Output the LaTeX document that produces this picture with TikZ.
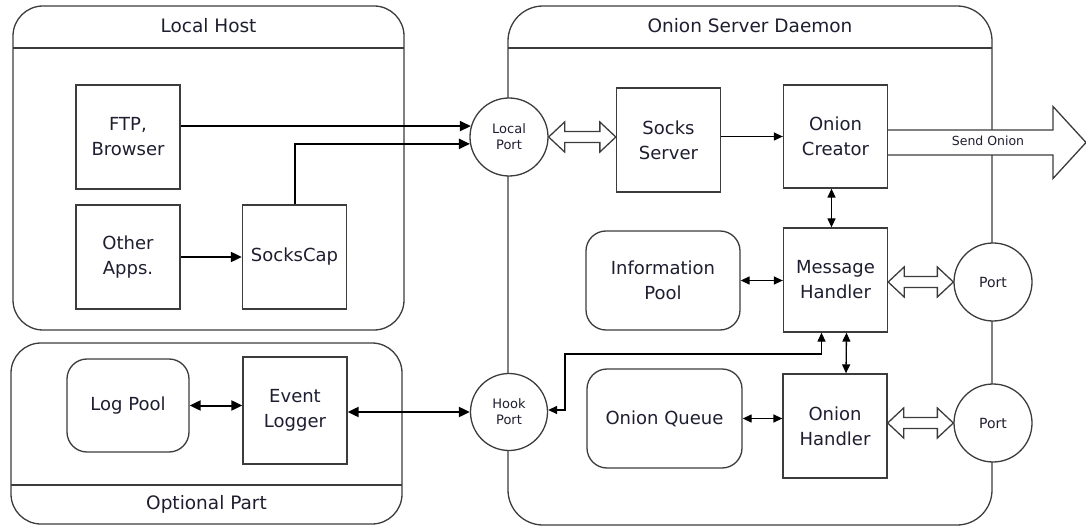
\documentclass[tikz,border=0pt]{standalone}
\usepackage{fontspec}
\setmainfont{DejaVu Sans}
\usetikzlibrary{arrows.meta,calc}
\definecolor{linec}{HTML}{3C3C3C}
\definecolor{textc}{HTML}{1E1E30}
\tikzset{
  frame/.style={draw=linec, line width=1.3pt},
  box/.style={draw=linec, line width=1.3pt, fill=white, minimum width=104pt, minimum height=104pt, inner sep=0pt, align=center, text=textc, font=\fontsize{18}{25}\selectfont},
  rbox/.style={box, rounded corners=20pt},
  portc/.style={draw=linec, line width=1.3pt, fill=white, circle, minimum size=78pt, inner sep=0pt, align=center, text=textc, font=\fontsize{13}{16}\selectfont},
  title/.style={text=textc, font=\fontsize{18.5}{22}\selectfont, inner sep=0pt},
  thick arr/.style={line width=2pt, black, -{Triangle[length=11pt,width=10pt]}},
  thick dbl/.style={line width=2pt, black, {Triangle[length=11pt,width=10pt]}-{Triangle[length=11pt,width=10pt]}},
  thin arr/.style={line width=1.3pt, black, -{Triangle[length=9pt,width=8pt]}},
  thin dbl/.style={line width=1.3pt, black, {Triangle[length=9pt,width=8pt]}-{Triangle[length=9pt,width=8pt]}},
  hollow/.style={draw=linec, line width=1.3pt, fill=white, line join=miter},
}
\newcommand\dblhollow[2]{%
  \draw[hollow] let \p1=(#1), \p2=(#2) in
    (\x1,\y1) -- (\x1+16pt,\y1+15pt) -- (\x1+16pt,\y1+5.5pt) -- (\x2-16pt,\y1+5.5pt)
    -- (\x2-16pt,\y1+15pt) -- (\x2,\y1) -- (\x2-16pt,\y1-15pt) -- (\x2-16pt,\y1-5.5pt)
    -- (\x1+16pt,\y1-5.5pt) -- (\x1+16pt,\y1-15pt) -- cycle;}
\begin{document}
\begin{tikzpicture}[x=1pt,y=-1pt]
\useasboundingbox (0,0) rectangle (1086,526);

% frames
\draw[frame, rounded corners=30pt] (13,6) rectangle (404,330);
\draw[frame] (13,48) -- (404,48);
\node[title] (lhtitle) at (208.5,26) {Local Host};

\draw[frame, rounded corners=30pt] (11,343) rectangle (402,524);
\draw[frame] (11,485) -- (402,485);
\node[title] (optitle) at (206.5,504) {Optional Part};

\draw[frame, rounded corners=35pt] (508,6) rectangle (992,525);
\draw[frame] (508,48) -- (992,48);
\node[title] (ostitle) at (750,26) {Onion Server Daemon};

% local host nodes
\node[box] (ftp) at (128,137) {FTP,\\Browser};
\node[box] (other) at (128,257) {Other\\Apps.};
\node[box] (socks) at (294.5,257) {SocksCap};

% optional part nodes
\node[rbox, minimum width=122pt, minimum height=93pt] (logpool) at (128,405.5) {Log Pool};
\node[box, minimum height=107pt] (evlog) at (295,410.5) {Event\\Logger};

% ports
\node[portc] (lport) at (509,137) {Local\\Port};
\node[portc, minimum size=77pt] (hport) at (509,412) {Hook\\Port};
\node[portc, font=\fontsize{14}{16}\selectfont] (port1) at (993,282) {Port};
\node[portc, font=\fontsize{14}{16}\selectfont] (port2) at (993,423) {Port};

% daemon nodes
\node[box] (ssrv) at (668.5,140) {Socks\\Server};
\node[box, minimum height=103pt] (ocr) at (835.5,136.5) {Onion\\Creator};
\node[rbox, minimum width=154pt, minimum height=99pt] (ipool) at (663,280.5) {Information\\Pool};
\node[box] (mh) at (835.5,280) {Message\\Handler};
\node[rbox, minimum width=155pt, minimum height=99pt] (oq) at (664.5,418.5) {Onion Queue};
\node[box] (oh) at (835,426) {Onion\\Handler};

% send onion arrow
\coordinate (sendtip) at (1086,142.5);
\draw[hollow] let \p1=(ocr.east |- sendtip), \p2=(sendtip) in
  (\x1,\y1+12.5pt) -- (\x2-33pt,\y1+12.5pt) -- (\x2-33pt,\y1+36pt) -- (\x2,\y1)
  -- (\x2-33pt,\y1-36pt) -- (\x2-33pt,\y1-12.5pt) -- (\x1,\y1-12.5pt);
\node[text=textc, font=\fontsize{12.5}{14}\selectfont, inner sep=0pt] (sendlbl) at (988,141) {Send Onion};

% local host connectors
\draw[thick arr] (ftp.east |- lport.164) -- (lport.164);
\draw[thick arr] (socks.north) |- (lport.190);
\draw[thick arr] (other.east) -- (socks.west);

% optional part connectors
\draw[thick dbl] (logpool.east) -- (evlog.west |- logpool.east);
\draw[thick dbl] (evlog.east |- hport.west) -- (hport.west);

% daemon connectors
\dblhollow{lport.east}{ssrv.west |- lport.east}
\draw[thin arr] (ssrv.east |- ocr.west) -- (ocr.west);
\draw[thin dbl] ([xshift=-4pt]ocr.south) -- ([xshift=-4pt]mh.north);
\draw[thin dbl] (ipool.east) -- (mh.west |- ipool.east);
\dblhollow{mh.east |- port1.west}{port1.west}
\draw[thin dbl] ([xshift=11pt]mh.south) -- ([xshift=11pt]oh.north);
\coordinate (hk) at (565,354);
\draw[thin dbl] ([xshift=-14pt]mh.south) |- (hk) |- ([yshift=2pt]hport.east);
\draw[thin dbl] (oq.east) -- (oh.west |- oq.east);
\dblhollow{oh.east |- port2.west}{port2.west}
\end{tikzpicture}
\end{document}
